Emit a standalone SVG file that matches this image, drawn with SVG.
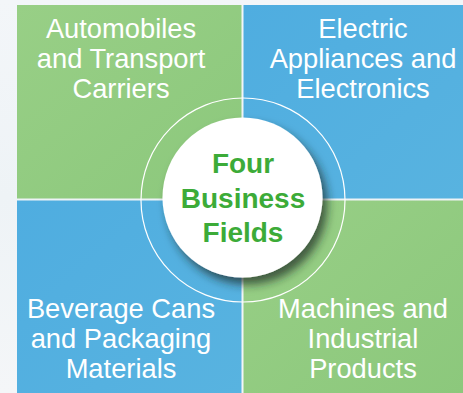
<svg xmlns="http://www.w3.org/2000/svg" width="463" height="393" viewBox="0 0 463 393">
<defs>
<linearGradient id="bg" x1="0" y1="0" x2="0" y2="1">
<stop offset="0" stop-color="#f3f6f9"/><stop offset="0.5" stop-color="#eef3f6"/><stop offset="1" stop-color="#f4f6f8"/>
</linearGradient>
<linearGradient id="gr" x1="0" y1="0" x2="1" y2="1">
<stop offset="0" stop-color="#98cf86"/><stop offset="1" stop-color="#8cc87c"/>
</linearGradient>
<linearGradient id="bl" x1="0" y1="0" x2="1" y2="1">
<stop offset="0" stop-color="#4fade0"/><stop offset="1" stop-color="#58b3e0"/>
</linearGradient>
<filter id="sh" x="-30%" y="-30%" width="160%" height="160%">
<feDropShadow dx="5" dy="7" stdDeviation="5" flood-color="#1a2a20" flood-opacity="0.7"/>
</filter>
<style>
.q{font-family:"Liberation Sans",Arial,sans-serif;font-size:27.3px;fill:#fff;text-anchor:middle}
.c{font-family:"Liberation Sans",Arial,sans-serif;font-size:28px;font-weight:bold;fill:#3cab38;text-anchor:middle}
</style>
</defs>
<rect width="463" height="393" fill="url(#bg)"/>
<g id="automobiles">
<rect x="17" y="5" width="224.5" height="193.5" fill="url(#gr)"/>
<text class="q" x="121" y="38">Automobiles</text>
<text class="q" x="121" y="68">and Transport</text>
<text class="q" x="121" y="98">Carriers</text>
</g>
<g id="electric">
<rect x="243.5" y="5" width="219.5" height="193.5" fill="url(#bl)"/>
<text class="q" x="363" y="38">Electric</text>
<text class="q" x="363" y="68">Appliances and</text>
<text class="q" x="363" y="98">Electronics</text>
</g>
<g id="beverage">
<rect x="17" y="200.5" width="224.5" height="192.5" fill="url(#bl)"/>
<text class="q" x="121" y="318">Beverage Cans</text>
<text class="q" x="121" y="348">and Packaging</text>
<text class="q" x="121" y="378">Materials</text>
</g>
<g id="machines">
<rect x="243.5" y="200.5" width="219.5" height="192.5" fill="url(#gr)"/>
<text class="q" x="363" y="318">Machines and</text>
<text class="q" x="363" y="348">Industrial</text>
<text class="q" x="363" y="378">Products</text>
</g>
<g id="center">
<circle cx="243" cy="200" r="102" fill="none" stroke="#fff" stroke-width="1.2"/>
<circle cx="242.5" cy="197.5" r="80" fill="#fff" filter="url(#sh)"/>
<text class="c" x="243" y="173">Four</text>
<text class="c" x="243" y="208">Business</text>
<text class="c" x="243" y="242">Fields</text>
</g>
</svg>
